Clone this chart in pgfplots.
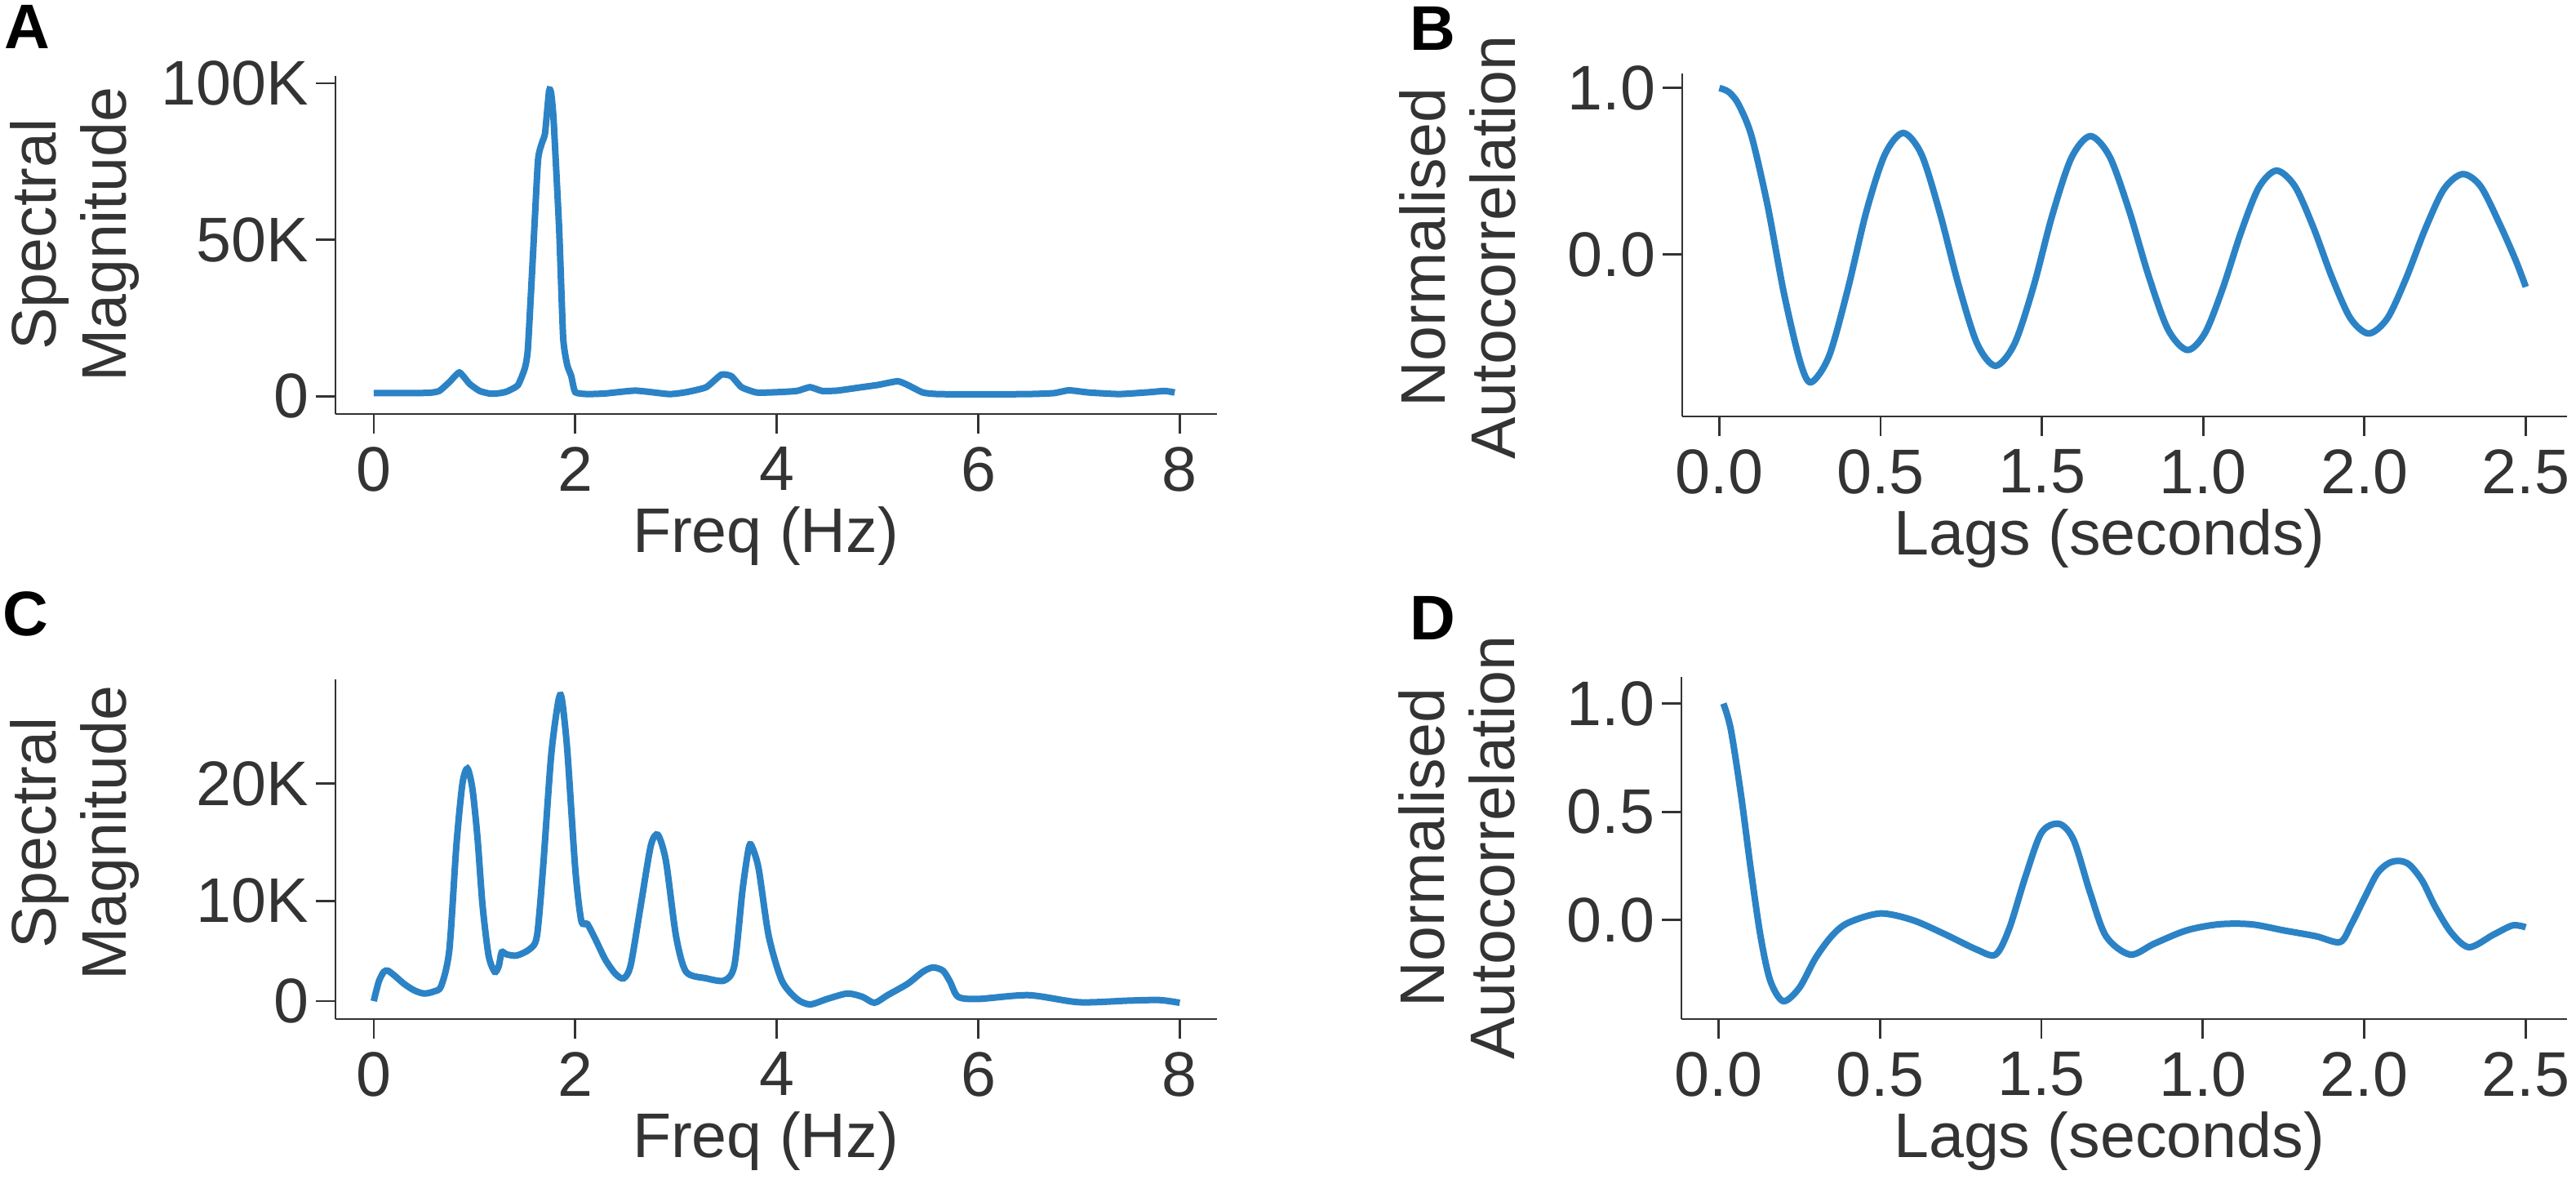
\documentclass[border=0pt]{standalone}
\usepackage{fontspec}
\setmainfont{Liberation Sans}
\usepackage{pgfplots}
\pgfplotsset{compat=1.18}
\definecolor{curve}{RGB}{43,131,198}
\definecolor{ink}{RGB}{51,51,51}
\pgfplotsset{
  panel/.style={
    scale only axis,
    anchor=south west,
    axis x line*=bottom, axis y line*=left,
    axis line style={ink, line width=0.7pt, -},
    every tick/.style={ink, line width=0.7pt},
    tick align=outside,
    major tick length=6pt,
    minor tick num=0,
    scaled ticks=false,
    /pgf/number format/assume math mode=true,
    tick label style={font=\fontsize{19.3}{22}\selectfont, text=ink},
    xticklabel style={inner sep=0pt, yshift=-4pt},
    yticklabel style={inner sep=0pt, xshift=-2pt},
    label style={font=\fontsize{19.3}{21.5}\selectfont, text=ink},
    ylabel style={align=center, anchor=center},
    xlabel style={anchor=center, yshift=-37.5pt},
  },
  data/.style={curve, line width=2pt, no marks},
}
\begin{document}
\begin{tikzpicture}
\useasboundingbox (0,0) rectangle (789pt,-362.25pt);

% ---------------- A ----------------
\begin{axis}[panel,
  at={(102.75pt,-126.75pt)}, width=270pt, height=103.5pt,
  xmin=-0.38, xmax=8.37, ymin=-5670, ymax=102350,
  xtick={0,2,4,6,8}, xticklabels={0,2,4,6,8},
  ytick={0,50000,100000}, yticklabels={0,50K,100K},
  xlabel={Freq (Hz)}, ylabel={Spectral\\Magnitude},
  xlabel style={at={(axis description cs:0.488,0)}},
  ylabel style={at={(axis description cs:-0.296,0.531)}},
]
\addplot[data, smooth, tension=0.3] coordinates {
(0,1000) (0.3,1000) (0.55,1100) (0.65,1700) (0.75,4500) (0.85,7600) (0.95,4000)
(1.05,1700) (1.16,800) (1.25,1000) (1.32,1500) (1.43,3500) (1.5,9000) (1.53,15200)
(1.58,44900) (1.63,75300) (1.67,81000) (1.70,84000) (1.74,97500) (1.76,97000)
(1.785,88400) (1.84,53600) (1.88,18700) (1.92,10000) (1.96,6500) (2.0,1300)
(2.12,700) (2.3,900) (2.6,1800) (2.93,700) (3.1,1300) (3.3,2900) (3.45,6900)
(3.55,6400) (3.65,2900) (3.8,1200) (4.0,1300) (4.2,1700) (4.33,2900) (4.45,1700)
(4.6,1800) (4.8,2700) (5.0,3600) (5.2,4800) (5.3,3600) (5.45,1200) (5.6,700)
(6.0,600) (6.5,700) (6.75,1000) (6.9,1900) (7.1,1200) (7.4,700) (7.7,1300)
(7.85,1700) (7.95,1200)
};
\end{axis}

% ---------------- B ----------------
\begin{axis}[panel,
  at={(515.25pt,-127.5pt)}, width=271pt, height=105pt,
  xmin=-0.115, xmax=2.628, ymin=-0.972, ymax=1.087,
  xtick={0,0.5,1,1.5,2,2.5}, xticklabels={0.0,0.5,1.5,1.0,2.0,2.5},
  ytick={0,1}, yticklabels={0.0,1.0},
  xlabel={Lags (seconds)}, ylabel={Normalised\\Autocorrelation},
  xlabel style={at={(axis description cs:0.483,0)}},
  ylabel style={at={(axis description cs:-0.254,0.493)}},
]
\addplot[data, smooth] coordinates {
(0.000,1.000) (0.030,0.975) (0.060,0.900) (0.100,0.710) (0.150,0.290)
(0.200,-0.230) (0.250,-0.640) (0.284,-0.767) (0.340,-0.610) (0.398,-0.210)
(0.456,0.260) (0.513,0.600) (0.570,0.730) (0.627,0.600) (0.684,0.247)
(0.742,-0.185) (0.799,-0.534) (0.856,-0.668) (0.915,-0.536) (0.974,-0.192)
(1.032,0.235) (1.091,0.579) (1.150,0.711) (1.210,0.588) (1.270,0.267)
(1.331,-0.129) (1.391,-0.450) (1.451,-0.573) (1.506,-0.470) (1.561,-0.201)
(1.617,0.132) (1.672,0.401) (1.727,0.504) (1.784,0.411) (1.841,0.166)
(1.899,-0.136) (1.956,-0.381) (2.013,-0.474) (2.071,-0.383) (2.129,-0.143)
(2.188,0.152) (2.246,0.392) (2.304,0.483) (2.360,0.410) (2.420,0.180)
(2.470,-0.040) (2.500,-0.194)
};
\end{axis}

% ---------------- C ----------------
\begin{axis}[panel,
  at={(102.75pt,-312pt)}, width=270pt, height=104pt,
  xmin=-0.38, xmax=8.37, ymin=-1650, ymax=29600,
  xtick={0,2,4,6,8}, xticklabels={0,2,4,6,8},
  ytick={0,9230,20000}, yticklabels={0,10K,20K},
  xlabel={Freq (Hz)}, ylabel={Spectral\\Magnitude},
  xlabel style={at={(axis description cs:0.488,0)}},
  ylabel style={at={(axis description cs:-0.296,0.548)}},
]
\addplot[data, smooth, tension=0.45] coordinates {
(0,0) (0.05,1800) (0.1,2700) (0.14,2800) (0.2,2400) (0.3,1600) (0.4,1000)
(0.5,700) (0.6,900) (0.67,1400) (0.75,4700) (0.82,14300) (0.88,20000)
(0.93,21400) (0.98,19500) (1.03,15000) (1.08,8800) (1.14,4200) (1.2,2700)
(1.24,3200) (1.27,4500) (1.32,4300) (1.42,4200) (1.55,4800) (1.62,6000)
(1.68,12200) (1.76,22500) (1.83,27500) (1.865,27900) (1.92,23200) (2.0,12200)
(2.06,7400) (2.12,7100) (2.2,5700) (2.3,3800) (2.4,2500) (2.48,2100) (2.55,3300)
(2.65,8800) (2.75,14300) (2.82,15300) (2.9,12900) (3.0,6000) (3.1,2700)
(3.3,2100) (3.48,1900) (3.58,3300) (3.66,10200) (3.72,14000) (3.75,14300)
(3.82,12200) (3.92,6000) (4.05,1900) (4.2,200) (4.33,-300) (4.5,200) (4.7,700)
(4.85,400) (4.97,-150) (5.1,550) (5.3,1600) (5.45,2700) (5.55,3100) (5.65,2800)
(5.72,1800) (5.8,400) (6.0,200) (6.5,550) (7.0,-100) (7.5,50) (7.8,100) (8.0,-150)
};
\end{axis}

% ---------------- D ----------------
\begin{axis}[panel,
  at={(515pt,-312pt)}, width=271.25pt, height=104.75pt,
  xmin=-0.115, xmax=2.628, ymin=-0.458, ymax=1.123,
  xtick={0,0.5,1,1.5,2,2.5}, xticklabels={0.0,0.5,1.5,1.0,2.0,2.5},
  ytick={0,0.5,1}, yticklabels={0.0,0.5,1.0},
  xlabel={Lags (seconds)}, ylabel={Normalised\\Autocorrelation},
  xlabel style={at={(axis description cs:0.483,0)}},
  ylabel style={at={(axis description cs:-0.254,0.501)}},
]
\addplot[data, smooth] coordinates {
(0.015,1.000) (0.038,0.880) (0.070,0.573) (0.100,0.232) (0.130,-0.075)
(0.160,-0.280) (0.200,-0.375) (0.250,-0.314) (0.300,-0.177) (0.350,-0.075)
(0.400,-0.014) (0.500,0.030) (0.600,0.000) (0.700,-0.065) (0.800,-0.137)
(0.858,-0.160) (0.900,-0.041) (0.950,0.198) (1.000,0.403) (1.055,0.444)
(1.100,0.369) (1.150,0.130) (1.200,-0.075) (1.275,-0.160) (1.350,-0.109)
(1.450,-0.048) (1.550,-0.020) (1.650,-0.020) (1.750,-0.048) (1.850,-0.075)
(1.925,-0.102) (1.960,-0.020) (2.000,0.100) (2.040,0.215) (2.075,0.262)
(2.108,0.273) (2.140,0.255) (2.180,0.180) (2.220,0.060) (2.270,-0.060)
(2.325,-0.126) (2.400,-0.068) (2.460,-0.025) (2.500,-0.034)
};
\end{axis}

% panel letters
\node[anchor=north west, inner sep=0pt, font=\fontsize{19.3}{22}\selectfont\bfseries] at (1.25pt,-1.5pt) {A};
\node[anchor=north west, inner sep=0pt, font=\fontsize{19.3}{22}\selectfont\bfseries] at (431.75pt,-2pt) {B};
\node[anchor=north west, inner sep=0pt, font=\fontsize{19.3}{22}\selectfont\bfseries] at (0.75pt,-181pt) {C};
\node[anchor=north west, inner sep=0pt, font=\fontsize{19.3}{22}\selectfont\bfseries] at (431.75pt,-182.5pt) {D};
\end{tikzpicture}
\end{document}
